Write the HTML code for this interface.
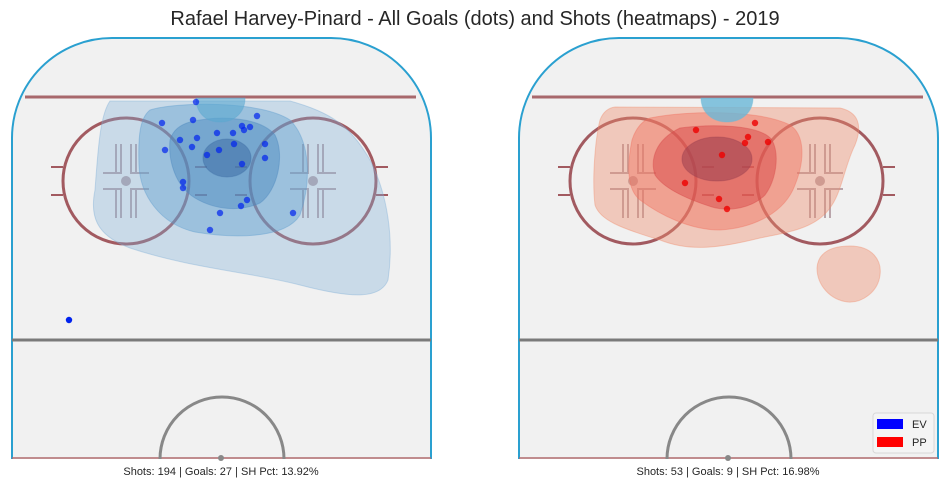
<!DOCTYPE html>
<html><head><meta charset="utf-8"><style>
html,body{margin:0;padding:0;background:#fff;}
svg{display:block;font-family:"Liberation Sans",sans-serif;}
</style></head><body>
<svg id="c" width="950" height="489" viewBox="0 0 950 489">
<text x="475" y="25" text-anchor="middle" font-size="20" fill="#262626">Rafael Harvey-Pinard - All Goals (dots) and Shots (heatmaps) - 2019</text>
<g id="left"></g>
<g id="right"></g>
<text x="221" y="475" text-anchor="middle" font-size="11" fill="#262626">Shots: 194 | Goals: 27 | SH Pct: 13.92%</text>
<text x="728" y="475" text-anchor="middle" font-size="11" fill="#262626">Shots: 53 | Goals: 9 | SH Pct: 16.98%</text>
<g>
<rect x="873" y="413" width="61" height="40" rx="3" fill="#f4f4f4" stroke="#d8d8d8"/>
<rect x="877" y="419" width="26" height="10" fill="#0000ff"/>
<text x="912" y="428" font-size="11" fill="#262626">EV</text>
<rect x="877" y="437" width="26" height="10" fill="#ff0000"/>
<text x="912" y="446" font-size="11" fill="#262626">PP</text>
</g>
</svg>
<script>
// goal locations, in rink-relative pixel units (origin = rink left edge, top)
const evGoalX = [184,150,181,245,230,232,238,205,221,168,185,180,153,207,222,195,253,253,230,171,171,235,229,208,281,198,57];
const evGoalY = [102,123,120,116,126,130,127,133,133,140,138,147,150,150,144,155,144,158,164,182,188,200,206,213,213,230,320];
const ppGoalX = [189,248,241,238,261,215,178,212,220];
const ppGoalY = [130,123,137,143,142,155,183,199,209];
const NS='http://www.w3.org/2000/svg';
const rinkY0 = 0;
function sx(off,v){return off+v;}
function sy(v){return rinkY0+v;}
function mk(parent,tag,attrs){const e=document.createElementNS(NS,tag);for(const k in attrs)e.setAttribute(k,attrs[k]);parent.appendChild(e);return e;}
function rink(g,off){
  const L=off, R=off+419, T=38, B=459, r=100;
  let e=mk(g,'path',{d:`M${L} ${B} L${L} ${T+r} A${r} ${r} 0 0 1 ${L+r} ${T} L${R-r} ${T} A${r} ${r} 0 0 1 ${R} ${T+r} L${R} ${B}`,fill:'#f1f1f1',stroke:'#2aa0d0','stroke-width':2});
  
  
  mk(g,'line',{x1:L+13,x2:R-15,y1:97,y2:97,stroke:'#a8686c','stroke-width':3});
  mk(g,'line',{x1:L,x2:R,y1:340,y2:340,stroke:'#7a7a7a','stroke-width':3});
  mk(g,'line',{x1:L,x2:R,y1:458,y2:458,stroke:'#b06a6e','stroke-width':1.5});
  mk(g,'path',{d:`M${L+148} 459 A62 62 0 0 1 ${L+272} 459`,fill:'none',stroke:'#888','stroke-width':3});
  mk(g,'circle',{cx:L+209,cy:458,r:3,fill:'#888'});
  [[114,-1],[301,1]].forEach(([cx,s])=>{
    const x=L+cx;
    mk(g,'circle',{cx:x,cy:181,r:63,fill:'none',stroke:'#a25a60','stroke-width':3});
    mk(g,'circle',{cx:x,cy:181,r:5,fill:'#b9a5ab'});
    const ox=x+s*63;
    mk(g,'path',{d:`M${ox} 167 h${s*12} M${ox} 195 h${s*12}`,stroke:'#a25a60','stroke-width':2});
    mk(g,'path',{d:`M${x-23} 173 h18 v-29 M${x-10} 173 v-29 M${x+23} 173 h-18 v-29 M${x+10} 173 v-29 M${x-23} 189 h18 v29 M${x-10} 189 v29 M${x+23} 189 h-18 v29 M${x+10} 189 v29`,stroke:'#b9a5ab','stroke-width':2,fill:'none'});
    mk(g,'path',{d:`M${L+209-s*24} 167 h${-s*12} M${L+209-s*24} 195 h${-s*12}`,stroke:'#a25a60','stroke-width':2,opacity:0});
  });
  mk(g,'path',{d:`M${L+183} 167 h12 M${L+183} 195 h12 M${L+223} 167 h12 M${L+223} 195 h12`,stroke:'#a25a60','stroke-width':2});
}
const lg=document.getElementById('left'), rg=document.getElementById('right');
rink(lg,12); rink(rg,519);
// heatmap contours
function blob(g,d,fill,op,name){const e=mk(g,'path',{d:d,fill:fill,'fill-opacity':op,stroke:fill,'stroke-opacity':0.4});}
blob(lg,'M110 101 L290 101 C330 112 350 125 370 160 C388 195 394 240 388 280 C380 300 350 298 300 285 C250 272 190 268 130 248 C95 235 90 215 95 190 C98 150 100 115 110 101Z','#7fb0d8',0.35,'ev-heat-level-1');
blob(lg,'M150 110 C175 102 260 100 290 120 C310 140 312 180 300 215 C285 240 230 238 195 232 C160 224 140 195 139 165 C138 135 140 118 150 110Z','#5a9ccc',0.4,'ev-heat-level-2');
blob(lg,'M190 122 C220 115 260 117 275 135 C285 155 278 190 260 203 C240 212 215 210 195 198 C175 186 168 160 170 140 C173 130 180 125 190 122Z','#4a88bf',0.45,'ev-heat-level-3');
blob(lg,'M203 158 A24 19 0 1 0 251 158 A24 19 0 1 0 203 158Z','#3e6ea6',0.55,'ev-heat-level-4');
blob(lg,'M196 98 L245 98 C245 112 235 122 220 122 C205 122 196 112 196 98Z','#5aa8d0',0.6,'ev-crease-heat');
blob(rg,'M615 107 L840 108 C858 112 863 125 855 145 C845 165 842 190 832 205 C818 228 790 232 760 238 C720 248 690 252 660 240 C620 228 600 220 595 205 C592 180 595 140 600 120 C603 112 608 108 615 107Z','#f08c6c',0.4,'pp-heat-level-1');
blob(rg,'M850 246 C872 246 882 260 880 275 C878 292 862 303 848 302 C830 300 817 285 817 268 C818 252 832 246 850 246Z','#f08c6c',0.4,'pp-heat-level-1b');
blob(rg,'M650 118 C690 110 760 110 790 125 C805 135 805 160 795 185 C785 212 755 228 720 230 C690 230 660 215 640 200 C625 188 628 160 632 140 C636 128 642 121 650 118Z','#f07060',0.45,'pp-heat-level-2');
blob(rg,'M680 128 C710 124 760 124 772 140 C780 155 776 180 765 195 C752 208 730 212 712 207 C690 200 665 190 655 175 C650 160 655 140 680 128Z','#d84848',0.5,'pp-heat-level-3');
blob(rg,'M682 159 A35 22 0 1 0 752 159 A35 22 0 1 0 682 159Z','#9a4050',0.55,'pp-heat-level-4');
blob(rg,'M701 98 L753 98 C753 112 742 122 727 122 C712 122 701 112 701 98Z','#6ab8d8',0.8,'pp-crease-heat');
// goal dots
evGoalX.forEach((v,i)=>{
  const c=mk(lg,'circle',{cx:sx(12,v),cy:sy(evGoalY[i]),r:3.2,fill:'#0022ee','fill-opacity':i===26?1:0.7});
  
  
});
ppGoalX.forEach((v,i)=>{
  const c=mk(rg,'circle',{cx:sx(507,v),cy:sy(ppGoalY[i]),r:3.2,fill:'#ee0000','fill-opacity':0.8});
  
  
});
</script>
</body></html>
